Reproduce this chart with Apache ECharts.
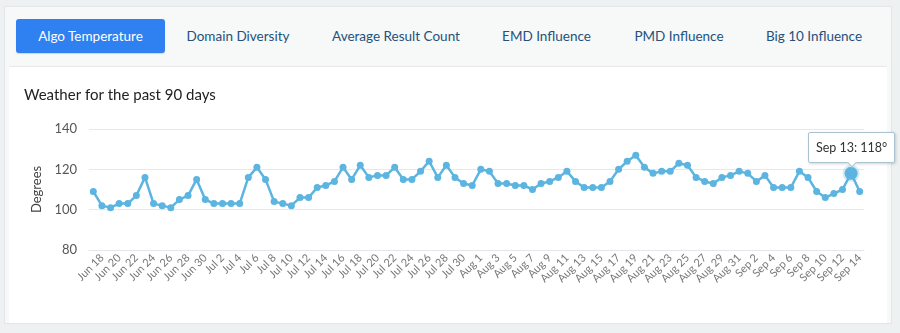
<!DOCTYPE html>
<html>
<head>
<meta charset="utf-8">
<script src="https://cdn.jsdelivr.net/npm/echarts@6/dist/echarts.min.js"></script>
<style>
  html, body { margin: 0; padding: 0; width: 900px; height: 333px; overflow: hidden; background: #eef1f2; font-family: Lato, "Open Sans", sans-serif; }
  #card { position: absolute; left: 4px; top: 6px; width: 888px; height: 318px; background: #f7f8f8; border: 1px solid #e3e6e8; box-sizing: border-box; }
  #tabs { position: absolute; left: 0; top: 0; width: 100%; height: 59px; }
  .tab { position: absolute; top: 12px; height: 34px; line-height: 34px; font-size: 13.5px; color: #23527c; text-align: center; }
  .tab.active { background: #2f80f0; color: #fff; border-radius: 3px; box-shadow: 0 1px 1px rgba(0,0,0,0.15); }
  #panel { position: absolute; left: 4px; top: 59px; width: 878px; height: 256px; background: #fff; border-top: 1px solid #e6e8ea; }
  #chart { position: absolute; left: 0; top: 0; width: 900px; height: 333px; }
</style>
</head>
<body>
<div id="card">
  <div id="tabs">
    <div class="tab active" style="left:11px;width:149px;">Algo Temperature</div>
    <div class="tab" style="left:173px;width:120px;">Domain Diversity</div>
    <div class="tab" style="left:316px;width:150px;">Average Result Count</div>
    <div class="tab" style="left:489px;width:105px;">EMD Influence</div>
    <div class="tab" style="left:619px;width:110px;">PMD Influence</div>
    <div class="tab" style="left:750px;width:118px;">Big 10 Influence</div>
  </div>
  <div id="panel"></div>
</div>
<div id="chart"></div>
<script>
// Daily labels for the last 90 days
const days = [
  'Jun 17','Jun 18','Jun 19','Jun 20','Jun 21','Jun 22','Jun 23','Jun 24','Jun 25','Jun 26','Jun 27','Jun 28','Jun 29','Jun 30',
  'Jul 1','Jul 2','Jul 3','Jul 4','Jul 5','Jul 6','Jul 7','Jul 8','Jul 9','Jul 10','Jul 11','Jul 12','Jul 13','Jul 14','Jul 15','Jul 16',
  'Jul 17','Jul 18','Jul 19','Jul 20','Jul 21','Jul 22','Jul 23','Jul 24','Jul 25','Jul 26','Jul 27','Jul 28','Jul 29','Jul 30','Jul 31',
  'Aug 1','Aug 2','Aug 3','Aug 4','Aug 5','Aug 6','Aug 7','Aug 8','Aug 9','Aug 10','Aug 11','Aug 12','Aug 13','Aug 14','Aug 15','Aug 16',
  'Aug 17','Aug 18','Aug 19','Aug 20','Aug 21','Aug 22','Aug 23','Aug 24','Aug 25','Aug 26','Aug 27','Aug 28','Aug 29','Aug 30','Aug 31',
  'Sep 1','Sep 2','Sep 3','Sep 4','Sep 5','Sep 6','Sep 7','Sep 8','Sep 9','Sep 10','Sep 11','Sep 12','Sep 13','Sep 14'
];

// Daily temperature in degrees
const degrees = [
  109, 102, 101, 103, 103, 107, 116, 103, 102, 101, 105, 107, 115, 105,
  103, 103, 103, 103, 116, 121, 115, 104, 103, 102, 106, 106, 111, 112, 114,
  121, 115, 122, 116, 117, 117, 121, 115, 115, 119, 124, 116, 122, 116, 113,
  112, 120, 119, 113, 113, 112, 112, 110, 113, 114, 116, 119, 114, 111, 111,
  111, 114, 120, 124, 127, 121, 118, 119, 119, 123, 122, 116, 114, 113, 116,
  117, 119, 118, 114, 117, 111, 111, 111, 119, 116, 109, 106, 108, 110, 118, 109
];

const yTicks = [80, 100, 120, 140];
const focusDay = 'Sep 13';

const lineColor = '#5cb4e0';
const focusIndex = days.indexOf(focusDay);

const seriesData = degrees.map((v, i) => i === focusIndex
  ? { value: v, symbolSize: 13, itemStyle: { borderColor: 'rgba(92,180,224,0.28)', borderWidth: 4 } }
  : v);

const chart = echarts.init(document.getElementById('chart'), null, { renderer: 'canvas' });
chart.setOption({
  animation: false,
  backgroundColor: 'transparent',
  textStyle: { fontFamily: 'Lato, "Open Sans", sans-serif' },
  title: {
    text: 'Weather for the past 90 days',
    left: 19, top: 83,
    textStyle: { fontSize: 15, fontWeight: 'normal', color: '#222', fontFamily: 'Lato' }
  },
  grid: { left: 89, top: 129, width: 775, height: 121, containLabel: false },
  tooltip: {
    trigger: 'item',
    position: 'top',
    alwaysShowContent: true,
    transitionDuration: 0,
    backgroundColor: '#fff',
    borderColor: '#a9c3d3',
    borderWidth: 1,
    padding: [5, 7],
    extraCssText: 'box-shadow: 1px 1px 3px rgba(0,0,0,0.18); border-radius: 2px; margin-top: 8px;',
    textStyle: { fontSize: 12.5, color: '#333', fontFamily: 'Lato' },
    formatter: p => p.name + ': ' + p.value + '\u00b0'
  },
  xAxis: {
    type: 'category',
    data: days,
    boundaryGap: true,
    axisLine: { show: true, lineStyle: { color: '#e3e6ea' } },
    axisTick: { show: false },
    axisLabel: {
      interval: (i) => i % 2 === 1,
      rotate: 45,
      fontSize: 11,
      color: '#777',
      margin: 6
    }
  },
  yAxis: {
    type: 'value',
    min: yTicks[0],
    max: yTicks[yTicks.length - 1],
    interval: yTicks[1] - yTicks[0],
    name: 'Degrees',
    nameLocation: 'middle',
    nameGap: 45,
    nameTextStyle: { fontSize: 13, color: '#444' },
    axisLine: { show: false },
    axisTick: { show: false },
    axisLabel: { fontSize: 13, color: '#555', margin: 12 },
    splitLine: { lineStyle: { color: '#e6e8ec' } }
  },
  series: [{
    type: 'line',
    data: seriesData,
    symbol: 'circle',
    symbolSize: 7,
    showAllSymbol: true,
    lineStyle: { color: lineColor, width: 2.5 },
    itemStyle: { color: lineColor }
  }]
});

function showFocusTip() {
  chart.dispatchAction({ type: 'showTip', seriesIndex: 0, dataIndex: focusIndex });
}
showFocusTip();
setTimeout(showFocusTip, 50);
</script>
</body>
</html>
